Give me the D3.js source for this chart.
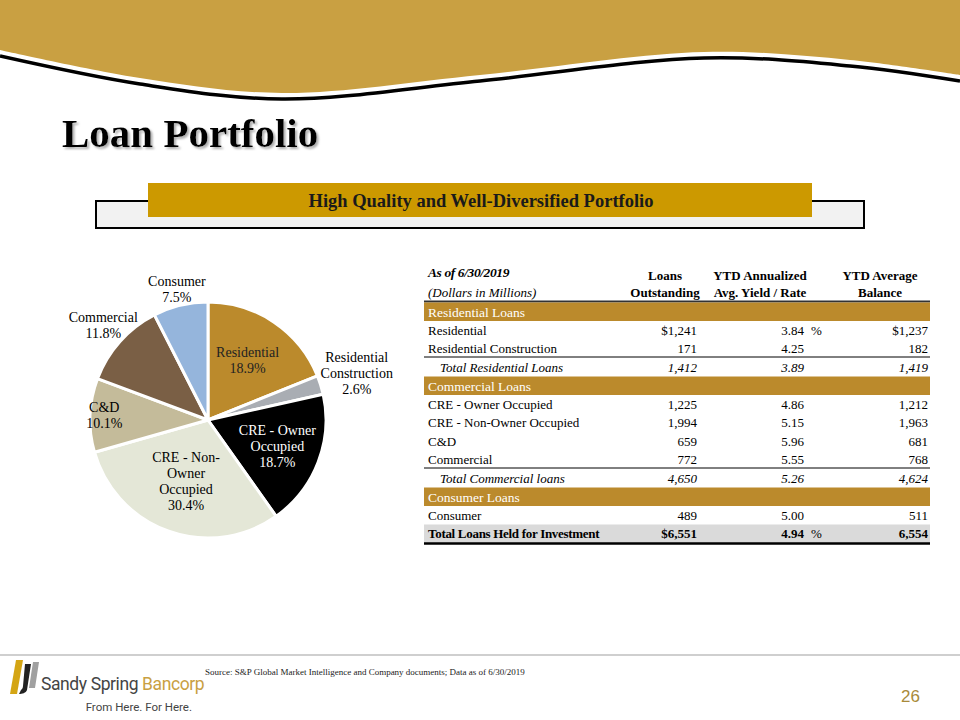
<!DOCTYPE html>
<meta charset="utf-8">
<script src="https://d3js.org/d3.v7.min.js"></script>
<style>
  body { margin: 0; background: #fff; }
  svg { display: block; font-family: "Liberation Serif", "DejaVu Serif", serif; }
</style>
<div id="slide"></div>

<script>
// pie data
const sliceNames = ["Residential", "Residential Construction", "CRE - Owner Occupied",
  "CRE - Non-Owner Occupied", "C&D", "Commercial", "Consumer"];
const slicePct = [18.9, 2.6, 18.7, 30.4, 10.1, 11.8, 7.5];
const sliceLabels = [
  ["Residential", "18.9%"],
  ["Residential", "Construction", "2.6%"],
  ["CRE - Owner", "Occupied", "18.7%"],
  ["CRE - Non-", "Owner", "Occupied", "30.4%"],
  ["C&D", "10.1%"],
  ["Commercial", "11.8%"],
  ["Consumer", "7.5%"]
];
const sliceColors = ["#bb8a2c", "#a9adb3", "#000000", "#e4e7d7", "#c4bb9a", "#7a5f45", "#95b5dc"];

// table data
const rowLabels = ["Residential", "Residential Construction", "Total Residential Loans",
  "CRE - Owner Occupied", "CRE - Non-Owner Occupied", "C&D", "Commercial",
  "Total Commercial loans", "Consumer", "Total Loans Held for Investment"];
const rowGroup = ["Residential Loans", "Residential Loans", "Residential Loans",
  "Commercial Loans", "Commercial Loans", "Commercial Loans", "Commercial Loans",
  "Commercial Loans", "Consumer Loans", "Total"];
const loansOutstanding = ["$1,241", "171", "1,412", "1,225", "1,994", "659", "772", "4,650", "489", "$6,551"];
const ytdYield = ["3.84", "4.25", "3.89", "4.86", "5.15", "5.96", "5.55", "5.26", "5.00", "4.94"];
const yieldPct = ["%", "", "", "", "", "", "", "", "", "%"];
const ytdBalance = ["$1,237", "182", "1,419", "1,212", "1,963", "681", "768", "4,624", "511", "6,554"];
const rowKind = ["item", "item", "subtotal", "item", "item", "item", "item", "subtotal", "item", "total"];

const W = 960, H = 720;
const svg = d3.select("#slide").append("svg")
  .attr("width", W).attr("height", H);

// ---- header wave
const waveTop = [[0, 50], [140, 78], [282, 93], [480, 75], [704, 52], [850, 60], [960, 75]];
const waveLine = d3.line().curve(d3.curveCatmullRom);
const goldArea = d3.area().x(d => d[0]).y0(0).y1(d => d[1]).curve(d3.curveCatmullRom);
svg.append("path").attr("d", goldArea(waveTop)).attr("fill", "#c9a042");
svg.append("path")
  .attr("d", waveLine(waveTop.map(d => [d[0], d[1] + 6])))
  .attr("fill", "none").attr("stroke", "#000").attr("stroke-width", 3.5);

// ---- title
const shadow = svg.append("defs").append("filter").attr("id", "sh")
  .attr("x", "-5%").attr("y", "-20%").attr("width", "110%").attr("height", "140%");
shadow.append("feDropShadow").attr("dx", 2).attr("dy", 2).attr("stdDeviation", 1.2)
  .attr("flood-color", "#999").attr("flood-opacity", 0.8);
svg.append("text").attr("x", 62).attr("y", 147)
  .attr("font-size", 41).attr("font-weight", "bold").attr("fill", "#000")
  .attr("filter", "url(#sh)")
  .text("Loan Portfolio");

// ---- banner
svg.append("rect").attr("x", 96).attr("y", 201).attr("width", 768).attr("height", 27)
  .attr("fill", "#f2f2f2").attr("stroke", "#000").attr("stroke-width", 2);
svg.append("rect").attr("x", 148).attr("y", 183).attr("width", 664).attr("height", 34)
  .attr("fill", "#cc9900");
svg.append("text").attr("x", 481).attr("y", 207).attr("text-anchor", "middle")
  .attr("font-size", 18.5).attr("font-weight", "bold").attr("fill", "#1a1a1a")
  .text("High Quality and Well-Diversified Portfolio");

// ---- pie
const cx = 208, cy = 420, R = 118;
const labelR = [0.6, 1.32, 0.63, 0.56, 0.88, 1.19, 1.13];
const labelFill = ["#222", "#000", "#fff", "#000", "#000", "#000", "#000"];
const pieData = d3.pie().sort(null)(slicePct);
const arc = d3.arc().innerRadius(0).outerRadius(R);
const pieG = svg.append("g").attr("transform", `translate(${cx},${cy})`);
pieG.selectAll("path.slice").data(pieData).join("path")
  .attr("class", "slice")
  .attr("d", arc)
  .attr("fill", (d, i) => sliceColors[i])
  .attr("stroke", "#fff").attr("stroke-width", 3).attr("stroke-linejoin", "round");

pieData.forEach((d, i) => {
  const a = (d.startAngle + d.endAngle) / 2;
  const r = R * labelR[i];
  const lx = Math.sin(a) * r, ly = -Math.cos(a) * r;
  const lines = sliceLabels[i];
  const lh = 16;
  const t = pieG.append("text").attr("text-anchor", "middle")
    .attr("font-size", 14).attr("fill", labelFill[i]);
  lines.forEach((s, k) => {
    t.append("tspan").attr("x", lx)
      .attr("y", ly + (k - (lines.length - 1) / 2) * lh + 4)
      .text(s);
  });
});

// ---- table
const tx0 = 424, tx1 = 930;
const colLoans = 697, colYield = 804, colPct = 811, colBal = 928;
const fs = 13;
const tbl = svg.append("g");

tbl.append("text").attr("x", 428).attr("y", 277).attr("font-size", fs + 0.5)
  .attr("font-weight", "bold").attr("font-style", "italic").attr("letter-spacing", -0.4)
  .text("As of 6/30/2019");
tbl.append("text").attr("x", 428).attr("y", 297).attr("font-size", fs)
  .attr("font-style", "italic").text("(Dollars in Millions)");
const heads = [[665, "Loans", "Outstanding"], [760, "YTD Annualized", "Avg. Yield / Rate"], [880, "YTD Average", "Balance"]];
heads.forEach(h => {
  tbl.append("text").attr("x", h[0]).attr("y", 280).attr("text-anchor", "middle")
    .attr("font-size", fs).attr("font-weight", "bold").text(h[1]);
  tbl.append("text").attr("x", h[0]).attr("y", 297).attr("text-anchor", "middle")
    .attr("font-size", fs).attr("font-weight", "bold").text(h[2]);
});
tbl.append("line").attr("x1", tx0).attr("x2", tx1).attr("y1", 301.5).attr("y2", 301.5)
  .attr("stroke", "#333").attr("stroke-width", 2);

// row layout: section bands then rows
const bandH = 18.5, rowH = 18.5;
let y = 302.5;
let lastGroup = null;
rowLabels.forEach((label, i) => {
  if (rowGroup[i] !== lastGroup && rowGroup[i] !== "Total") {
    tbl.append("rect").attr("x", tx0).attr("y", y).attr("width", tx1 - tx0).attr("height", bandH)
      .attr("fill", "#bb8a2c");
    tbl.append("text").attr("x", 428).attr("y", y + 14).attr("font-size", fs + 0.5)
      .attr("fill", "#fff").text(rowGroup[i]);
    y += bandH;
  }
  lastGroup = rowGroup[i];
  const kind = rowKind[i];
  if (kind === "total") {
    tbl.append("rect").attr("x", tx0).attr("y", y).attr("width", tx1 - tx0).attr("height", rowH)
      .attr("fill", "#dadada");
  }
  const base = y + 13.5;
  const g = tbl.append("g").attr("font-size", fs)
    .attr("font-style", kind === "subtotal" ? "italic" : null)
    .attr("font-weight", kind === "total" ? "bold" : null);
  g.append("text").attr("x", kind === "subtotal" ? 440 : 428).attr("y", base)
    .attr("letter-spacing", kind === "total" ? -0.3 : null).text(label);
  g.append("text").attr("x", colLoans).attr("y", base).attr("text-anchor", "end").text(loansOutstanding[i]);
  g.append("text").attr("x", colYield).attr("y", base).attr("text-anchor", "end").text(ytdYield[i]);
  g.append("text").attr("x", colPct).attr("y", base).attr("font-weight", "normal").text(yieldPct[i]);
  g.append("text").attr("x", colBal).attr("y", base).attr("text-anchor", "end").text(ytdBalance[i]);
  y += rowH;
  if (i + 1 < rowKind.length && rowKind[i + 1] === "subtotal") {
    tbl.append("line").attr("x1", tx0).attr("x2", tx1).attr("y1", y - 1).attr("y2", y - 1)
      .attr("stroke", "#000").attr("stroke-width", 1);
  }
  if (kind === "total") {
    tbl.append("line").attr("x1", tx0).attr("x2", tx1).attr("y1", y + 0.5).attr("y2", y + 0.5)
      .attr("stroke", "#000").attr("stroke-width", 2.5);
  }
});

// ---- footer
svg.append("line").attr("x1", 0).attr("x2", W).attr("y1", 655).attr("y2", 655)
  .attr("stroke", "#cfcfcf").attr("stroke-width", 2);
// logo mark
const logo = svg.append("g").attr("transform", "translate(9,660)");
logo.append("path").attr("d", "M7,0 L14,0 L8,34 L1,34 Z").attr("fill", "#d4a514");
logo.append("path").attr("d", "M16,4 L22,4 L18,30 C17,33 13,34 10,34 L12,30 C13,29 14,28 14,26 Z").attr("fill", "#222");
logo.append("path").attr("d", "M24,2 L30,2 L26,28 L20,28 Z").attr("fill", "#a0a0a0");
svg.append("text").attr("x", 41).attr("y", 690)
  .style("font-family", "Roboto, 'Liberation Sans', sans-serif").attr("font-size", 17.5)
  .attr("fill", "#444").attr("letter-spacing", -0.4)
  .text("Sandy Spring ")
  .append("tspan").attr("fill", "#c9a042").text("Bancorp");
svg.append("text").attr("x", 192).attr("y", 711).attr("text-anchor", "end")
  .style("font-family", "Roboto, 'Liberation Sans', sans-serif").attr("font-size", 11.5)
  .attr("fill", "#444").text("From Here. For Here.");
svg.append("text").attr("x", 205).attr("y", 675).attr("font-size", 9).attr("fill", "#222")
  .text("Source: S&P Global Market Intelligence and Company documents; Data as of 6/30/2019");
svg.append("text").attr("x", 920).attr("y", 702).attr("text-anchor", "end")
  .style("font-family", "'Liberation Sans', sans-serif").attr("font-size", 17)
  .attr("fill", "#a88a3a").text("26");
</script>
